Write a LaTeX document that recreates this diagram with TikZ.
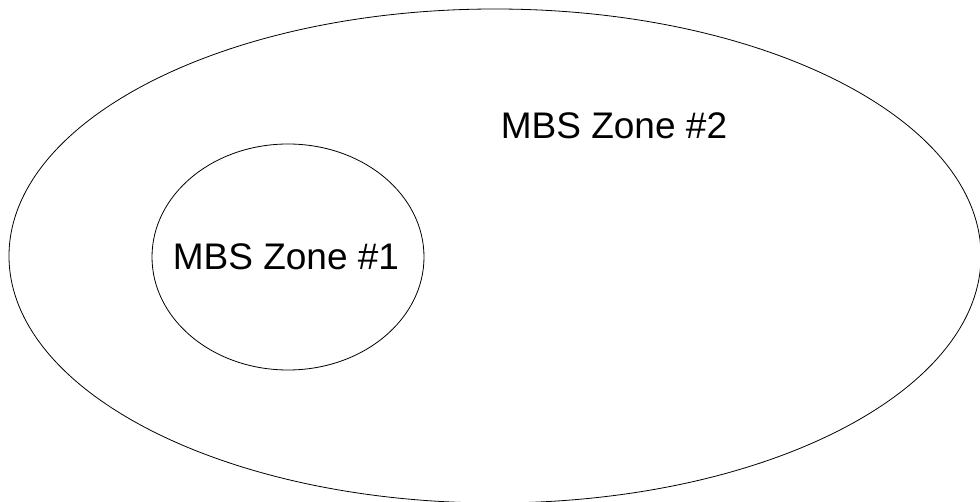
\documentclass[tikz,border=0pt]{standalone}
\usepackage{fontspec}
\setmainfont{Liberation Sans}
\usepackage{tikz}
\usetikzlibrary{positioning}
\usetikzlibrary{shapes.geometric}

\begin{document}
\begin{tikzpicture}[x=1pt, y=-1pt]
\useasboundingbox (0,0) rectangle (980,502);
\node [ellipse, draw=black, line width=0.8pt, inner sep=0pt, minimum width=972pt, minimum height=494pt] (Z2) at (495, 256) {};
\node [ellipse, draw=black, line width=0.8pt, inner sep=0pt, minimum width=272pt, minimum height=226pt] (Z1) at (288, 257) {};
\node [rectangle, draw=none, font=\fontsize{37}{41}\selectfont] (L2) at (614, 126) {MBS Zone \#2};
\node [rectangle, draw=none, font=\fontsize{37}{41}\selectfont] (L1) at (286, 257) {MBS Zone \#1};
\end{tikzpicture}
\end{document}
